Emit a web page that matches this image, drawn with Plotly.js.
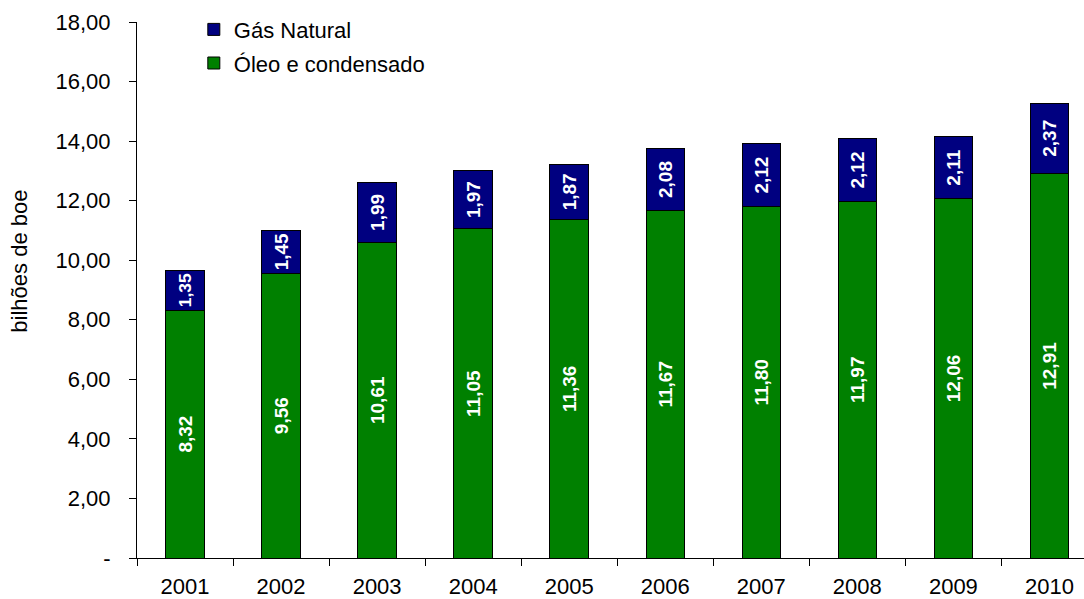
<!DOCTYPE html>
<html>
<head>
<meta charset="utf-8">
<script src="https://cdn.plot.ly/plotly-3.0.1.min.js"></script>
<style>html,body{margin:0;padding:0;background:#fff;}#chart{width:1084px;height:599px;}</style>
</head>
<body>
<div id="chart"></div>
<script>
const years = ["2001","2002","2003","2004","2005","2006","2007","2008","2009","2010"];
const oleo = [8.32, 9.56, 10.61, 11.05, 11.36, 11.67, 11.80, 11.97, 12.06, 12.91];
const gas = [1.35, 1.45, 1.99, 1.97, 1.87, 2.08, 2.12, 2.12, 2.11, 2.37];
const yTickVals = [0, 2, 4, 6, 8, 10, 12, 14, 16, 18];
const yTickText = ["-", "2,00", "4,00", "6,00", "8,00", "10,00", "12,00", "14,00", "16,00", "18,00"];
const yTitle = "bilhões de boe";

const FONT = "'Liberation Sans', Arial, sans-serif";
const labelFont = {family: FONT, size: 19, color: "#ffffff", weight: "bold"};

const traces = [
  {
    type: "bar", name: "Óleo e condensado", x: years, y: oleo, legendgroup: "o", legendrank: 2,
    marker: {color: "#008000", line: {color: "#000000", width: 1}},
    texttemplate: "<b>%{y:.2f}</b>", textposition: "inside", insidetextanchor: "middle",
    textangle: -90, textfont: labelFont, hoverinfo: "skip"
  },
  {
    type: "bar", name: "Gás Natural", x: years, y: gas, legendgroup: "g", legendrank: 1,
    marker: {color: "#000080", line: {color: "#000000", width: 1}},
    texttemplate: "<b>%{y:.2f}</b>", textposition: "inside", insidetextanchor: "middle",
    textangle: -90, textfont: labelFont, hoverinfo: "skip"
  }
];

const layout = {
  width: 1084, height: 599,
  margin: {l: 137, r: 0, t: 22, b: 41},
  paper_bgcolor: "#ffffff", plot_bgcolor: "#ffffff",
  separators: ",.",
  barmode: "stack", bargap: 0.6,
  font: {family: FONT, size: 22, color: "#000000"},
  showlegend: true,
  legend: {
    x: 0.06, y: 1.025, xanchor: "left", yanchor: "top",
    traceorder: "grouped", font: {family: FONT, size: 22, color: "#000"},
    bgcolor: "rgba(0,0,0,0)", itemwidth: 30, tracegroupgap: 2
  },
  xaxis: {
    type: "category", range: [-0.5, 9.36],
    showline: true, linecolor: "#000", linewidth: 1,
    ticks: "outside", ticklen: 7, tickcolor: "#000", tickson: "boundaries",
    showgrid: false, zeroline: false, fixedrange: true,
    ticklabelstandoff: 9,
    tickfont: {family: FONT, size: 22, color: "#000"}
  },
  yaxis: {
    range: [0, 18], tickvals: yTickVals, ticktext: yTickText,
    showline: true, linecolor: "#000", linewidth: 1,
    ticks: "outside", ticklen: 7, tickcolor: "#000",
    showgrid: false, zeroline: false, fixedrange: true,
    ticklabelstandoff: 14,
    tickfont: {family: FONT, size: 22, color: "#000"}
  },
  annotations: [{
    text: yTitle, xref: "paper", yref: "paper", x: -0.1235, y: 0.553,
    xanchor: "center", yanchor: "middle", textangle: -90, showarrow: false,
    font: {family: FONT, size: 22, color: "#000"}
  }]
};

Plotly.newPlot("chart", traces, layout, {displayModeBar: false, staticPlot: true});
</script>
</body>
</html>
